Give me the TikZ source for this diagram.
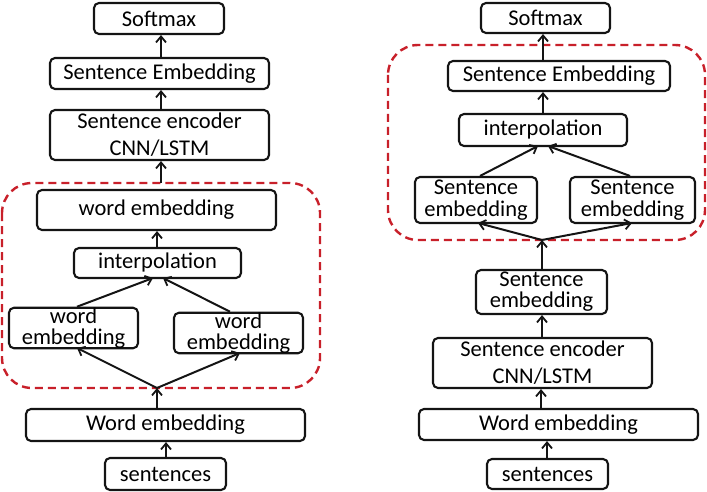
\documentclass[tikz,border=0pt]{standalone}
\usepackage{fontspec}
\setmainfont{Carlito}
\usetikzlibrary{arrows.meta}
\definecolor{dashred}{RGB}{200,32,42}
\definecolor{boxline}{RGB}{20,20,20}
\tikzset{
  x=1pt,y=-1pt,
  blk/.style={draw=boxline,line width=2.1pt,rounded corners=5pt,inner sep=0pt,
    align=center,font=\fontsize{22.5}{27}\selectfont,text=black},
  tight/.style={font=\fontsize{22.5}{21}\selectfont},
  mid/.style={font=\fontsize{22.5}{22}\selectfont},
  conn/.style={line width=2pt,draw=boxline,-{Straight Barb[length=6pt,width=10pt,line width=1.8pt]}},
  grp/.style={draw=dashred,line width=2.4pt,dash pattern=on 8pt off 5pt,rounded corners=30pt},
}
\begin{document}
\begin{tikzpicture}
\useasboundingbox (0,0) rectangle (707,492);
% ---------------- Left column ----------------
\draw[grp] (2,183) rectangle (320,388);
\node[blk,minimum width=130,minimum height=31] (lsoft) at (159,18.5) {Softmax};
\node[blk,minimum width=219,minimum height=31] (lsemb) at (159.5,73.5) {Sentence Embedding};
\node[blk,minimum width=219,minimum height=50] (lenc) at (159.5,135) {Sentence encoder\\CNN/LSTM};
\node[blk,minimum width=239,minimum height=40] (lwtop) at (156.5,210) {word embedding};
\node[blk,minimum width=167,minimum height=30] (linterp) at (157.5,263) {interpolation};
\node[blk,tight,minimum width=129,minimum height=40] (lwl) at (73.5,328) {word\\embedding};
\node[blk,tight,minimum width=129,minimum height=40] (lwr) at (238.5,333) {word\\embedding};
\node[blk,minimum width=279,minimum height=32] (lword) at (165.5,425) {Word embedding};
\node[blk,minimum width=121,minimum height=32] (lsent) at (165.5,474) {sentences};
\coordinate (ljun) at (157,388);
\coordinate (ltop) at (161,183);
\draw[conn] (lsent.north -| 166,0) -- (lword.south -| 166,0);
\draw[conn] (lword.north -| ljun) -- (ljun);
\draw[conn] (ljun) -- (77,348);
\draw[conn] (ljun) -- (240,353);
\draw[conn] (lwl.north -| 77,0) -- (153,278);
\draw[conn] (lwr.north -| 230,0) -- (163,278);
\draw[conn] (linterp.north -| 157,0) -- (lwtop.south -| 157,0);
\draw[conn] (ltop) -- (lenc.south -| ltop);
\draw[conn] (lenc.north -| 161,0) -- (lsemb.south -| 161,0);
\draw[conn] (lsemb.north -| 161,0) -- (lsoft.south -| 161,0);
% ---------------- Right column ----------------
\draw[grp] (388,45) rectangle (705,240);
\node[blk,minimum width=129,minimum height=30] (rsoft) at (545.5,18) {Softmax};
\node[blk,minimum width=222,minimum height=30] (rsemb) at (559,76) {Sentence Embedding};
\node[blk,minimum width=168,minimum height=32] (rinterp) at (543,130) {interpolation};
\node[blk,mid,minimum width=122,minimum height=46] (rsl) at (476,200) {Sentence\\embedding};
\node[blk,mid,minimum width=125,minimum height=46] (rsr) at (632.5,200) {Sentence\\embedding};
\node[blk,tight,minimum width=131,minimum height=44] (rsemb2) at (541.5,292) {Sentence\\embedding};
\node[blk,minimum width=219,minimum height=50] (renc) at (542.5,363) {Sentence encoder\\CNN/LSTM};
\node[blk,minimum width=279,minimum height=31] (rword) at (558.5,424.5) {Word embedding};
\node[blk,minimum width=121,minimum height=30] (rsent) at (547.5,474) {sentences};
\coordinate (rjun) at (542,240);
\draw[conn] (rsent.north -| 547,0) -- (rword.south -| 547,0);
\draw[conn] (rword.north -| 541,0) -- (renc.south -| 541,0);
\draw[conn] (renc.north -| 542,0) -- (rsemb2.south -| 542,0);
\draw[conn] (rsemb2.north -| rjun) -- (rjun);
\draw[conn] (rjun) -- (478,223);
\draw[conn] (rjun) -- (632,223);
\draw[conn] (rsl.north -| 480,0) -- (538,146);
\draw[conn] (rsr.north -| 630,0) -- (548,146);
\draw[conn] (rinterp.north -| 543,0) -- (rsemb.south -| 543,0);
\draw[conn] (rsemb.north -| 543,0) -- (rsoft.south -| 543,0);
\end{tikzpicture}
\end{document}
